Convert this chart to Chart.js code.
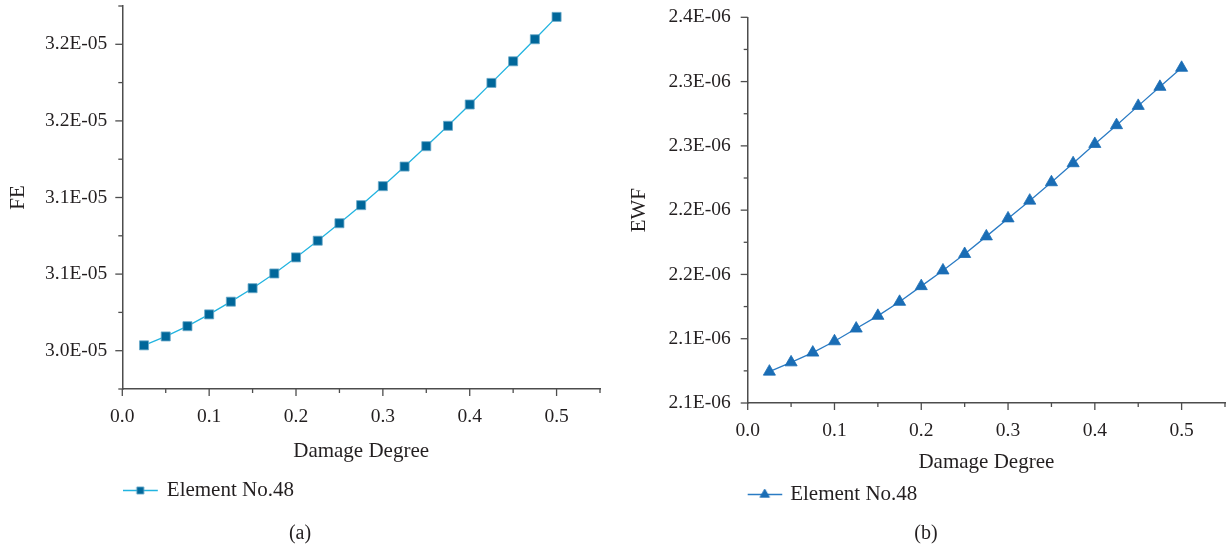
<!DOCTYPE html>
<html>
<head>
<meta charset="utf-8">
<script src="https://cdn.jsdelivr.net/npm/chart.js@4/dist/chart.umd.min.js"></script>
<style>
  html, body { margin: 0; padding: 0; background: #ffffff; }
  body { width: 1226px; height: 550px; position: relative; overflow: hidden; }
  canvas { position: absolute; top: 0; }
  #chartA { left: 0; }
  #chartB { left: 627px; }
</style>
</head>
<body>
<canvas id="chartA" width="608" height="550"></canvas>
<canvas id="chartB" width="599" height="550"></canvas>
<script>
// Damage degree of element No.48 (shared x values)
const damageDegree = [0.025, 0.05, 0.075, 0.1, 0.125, 0.15, 0.175, 0.2, 0.225, 0.25,
                      0.275, 0.3, 0.325, 0.35, 0.375, 0.4, 0.425, 0.45, 0.475, 0.5];

// (a) FE index
const feValues = [3.0035e-5, 3.0093e-5, 3.0160e-5, 3.0237e-5, 3.0320e-5, 3.0408e-5, 3.0504e-5,
                  3.0609e-5, 3.0718e-5, 3.0832e-5, 3.0950e-5, 3.1074e-5, 3.1202e-5, 3.1335e-5,
                  3.1468e-5, 3.1607e-5, 3.1748e-5, 3.1889e-5, 3.2033e-5, 3.2179e-5];

// (b) EWF index
const ewfValues = [2.0744e-6, 2.0816e-6, 2.0892e-6, 2.0980e-6, 2.1079e-6, 2.1178e-6, 2.1287e-6,
                   2.1409e-6, 2.1531e-6, 2.1659e-6, 2.1796e-6, 2.1936e-6, 2.2074e-6, 2.2217e-6,
                   2.2365e-6, 2.2515e-6, 2.2661e-6, 2.2811e-6, 2.2959e-6, 2.3107e-6];

const seriesName = 'Element No.48';

// Axis ticks (labels are rounded to two significant digits)
const xTickValues = [0, 0.1, 0.2, 0.3, 0.4, 0.5];
const xTickLabels = ['0.0', '0.1', '0.2', '0.3', '0.4', '0.5'];
const feTickValues = [3.0e-5, 3.05e-5, 3.1e-5, 3.15e-5, 3.2e-5];
const feTickLabels = ['3.0E-05', '3.1E-05', '3.1E-05', '3.2E-05', '3.2E-05'];
const ewfTickValues = [2.05e-6, 2.1e-6, 2.15e-6, 2.2e-6, 2.25e-6, 2.3e-6, 2.35e-6];
const ewfTickLabels = ['2.1E-06', '2.1E-06', '2.2E-06', '2.2E-06', '2.3E-06', '2.3E-06', '2.4E-06'];

const SERIF = '"Liberation Serif", "Times New Roman", serif';
const TEXT = '#231f20';
const AXIS = '#4d4d4d';

// Outward major/minor tick marks for both axes
const tickMarks = {
  id: 'tickMarks',
  afterDraw(chart, args, opts) {
    const ctx = chart.ctx;
    ctx.save();
    ctx.strokeStyle = AXIS;
    ctx.lineWidth = 1.3;
    for (const id of ['x', 'y']) {
      const scale = chart.scales[id];
      const majors = opts[id].majors;
      const step = majors[1] - majors[0];
      const minors = [];
      for (let v = majors[0] - step / 2; v <= scale.max + step * 1e-6; v += step / 2) {
        const isMajor = majors.some(m => Math.abs(m - v) < step * 1e-3);
        if (v >= scale.min - step * 1e-6 && !isMajor) minors.push(v);
      }
      const draw = (v, len) => {
        const p = scale.getPixelForValue(v);
        ctx.beginPath();
        if (id === 'x') {
          const y0 = chart.chartArea.bottom;
          ctx.moveTo(p, y0); ctx.lineTo(p, y0 + len);
        } else {
          const x0 = chart.chartArea.left;
          ctx.moveTo(x0, p); ctx.lineTo(x0 - len, p);
        }
        ctx.stroke();
      };
      majors.forEach(v => draw(v, 7));
      minors.forEach(v => draw(v, 4));
    }
    ctx.restore();
  }
};

// Legend swatch: short line with the series marker in the middle
function makeSwatch(lineColor, pointStyle, radius, fill, stroke) {
  const c = document.createElement('canvas');
  c.width = 43; c.height = 21;
  const g = c.getContext('2d');
  g.strokeStyle = lineColor;
  g.lineWidth = 1.5;
  g.beginPath(); g.moveTo(0, 10.5); g.lineTo(35, 10.5); g.stroke();
  g.fillStyle = fill;
  g.strokeStyle = stroke;
  g.lineWidth = 0.8;
  Chart.helpers.drawPoint(g, {pointStyle, radius, borderWidth: 0.8, rotation: 0}, 17.5, 10.5);
  return c;
}

function buildChart(canvasId, cfg) {
  const tickFont = {family: SERIF, size: 19.5};
  return new Chart(document.getElementById(canvasId), {
    type: 'line',
    data: {
      datasets: [{
        label: seriesName,
        data: damageDegree.map((d, i) => ({x: d, y: cfg.values[i]})),
        borderColor: cfg.lineColor,
        borderWidth: 1.3,
        pointStyle: cfg.pointStyle,
        pointRadius: cfg.pointRadius,
        pointBackgroundColor: cfg.pointFill,
        pointBorderColor: cfg.pointStroke,
        pointBorderWidth: 0.8,
        tension: 0,
        clip: false
      }]
    },
    options: {
      responsive: false,
      animation: false,
      devicePixelRatio: 1,
      layout: {
        autoPadding: false,
        padding: {top: cfg.padTop, right: cfg.padRight, left: 0, bottom: 0}
      },
      scales: {
        x: {
          type: 'linear',
          min: 0, max: 0.55,
          afterBuildTicks: s => { s.ticks = xTickValues.map(v => ({value: v})); },
          afterFit: s => { s.height = cfg.xHeight; s.paddingLeft = 0; s.paddingRight = 0; },
          grid: {display: false, drawTicks: false},
          border: {display: true, color: AXIS, width: 1.5},
          ticks: {
            autoSkip: false, maxRotation: 0, padding: 16,
            color: TEXT, font: tickFont,
            callback: (v, i) => xTickLabels[i]
          },
          title: {
            display: true, text: 'Damage Degree', color: TEXT,
            font: {family: SERIF, size: 21, lineHeight: 1},
            padding: {top: 0, bottom: cfg.xTitlePad}
          }
        },
        y: {
          min: cfg.yMin, max: cfg.yMax,
          afterBuildTicks: s => { s.ticks = cfg.yTicks.map(v => ({value: v})); },
          afterFit: s => { s.width = cfg.yWidth; s.paddingTop = 0; s.paddingBottom = 0; },
          grid: {display: false, drawTicks: false},
          border: {display: true, color: AXIS, width: 1.5},
          ticks: {
            autoSkip: false, padding: cfg.yTickPad,
            color: TEXT, font: tickFont,
            callback: (v, i) => cfg.yLabels[i]
          },
          title: {
            display: true, text: cfg.yTitle, color: TEXT,
            font: {family: SERIF, size: 21, lineHeight: 1},
            padding: {top: cfg.yTitlePad, bottom: 0}
          }
        }
      },
      plugins: {
        tooltip: {enabled: false},
        legend: {
          display: true, position: 'bottom', align: 'start', fullSize: false,
          labels: {
            usePointStyle: true,
            pointStyleWidth: cfg.legendBox,
            padding: 10,
            color: TEXT,
            font: {family: SERIF, size: 21},
            generateLabels: () => [{
              text: seriesName,
              pointStyle: makeSwatch(cfg.lineColor, cfg.pointStyle, cfg.legendRadius, cfg.pointFill, cfg.pointStroke),
              fillStyle: cfg.pointFill,
              strokeStyle: cfg.pointFill,
              lineWidth: 0,
              fontColor: TEXT,
              hidden: false,
              datasetIndex: 0
            }]
          }
        },
        title: {
          display: true, position: 'bottom', text: cfg.caption, color: TEXT,
          font: {family: SERIF, size: 20, weight: 'normal', lineHeight: 1.2},
          padding: {top: cfg.capPadTop, bottom: 4}
        },
        tickMarks: {
          x: {majors: xTickValues},
          y: {majors: cfg.yTicks}
        }
      }
    },
    plugins: [tickMarks]
  });
}

buildChart('chartA', {
  values: feValues,
  yMin: 2.975e-5, yMax: 3.225e-5,
  yTicks: feTickValues, yLabels: feTickLabels,
  yTitle: 'FE', caption: '(a)',
  lineColor: '#22b4e0', pointStyle: 'rect', pointRadius: 6.4,
  pointFill: '#00679a', pointStroke: '#6aaac9', legendRadius: 5,
  padTop: 6, padRight: 8,
  xHeight: 81, xTitlePad: 8, yWidth: 122.3, yTickPad: 15, yTitlePad: 8,
  legendBox: 24, capPadTop: 11
});

buildChart('chartB', {
  values: ewfValues,
  yMin: 2.05e-6, yMax: 2.35e-6,
  yTicks: ewfTickValues, yLabels: ewfTickLabels,
  yTitle: 'EWF', caption: '(b)',
  lineColor: '#2a7bc4', pointStyle: 'triangle', pointRadius: 7,
  pointFill: '#1a6db5', pointStroke: '#1a6db5', legendRadius: 5.5,
  padTop: 17.3, padRight: 1,
  xHeight: 71, xTitlePad: 1, yWidth: 120.7, yTickPad: 17, yTitlePad: 1.5,
  legendBox: 22, capPadTop: 7
});
</script>
</body>
</html>
